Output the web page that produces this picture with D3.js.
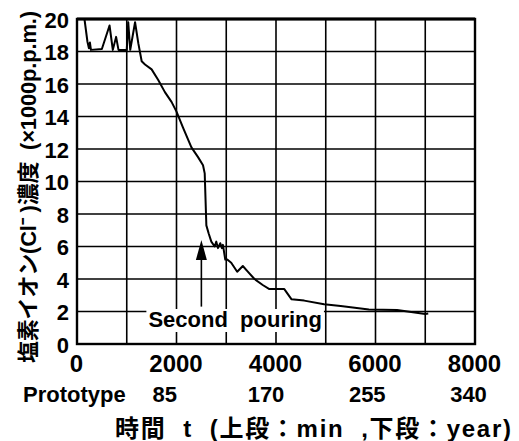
<!DOCTYPE html>
<html>
<head>
<meta charset="utf-8">
<script src="https://cdn.jsdelivr.net/npm/d3@7"></script>
<style>
  body { margin: 0; background: #fff; }
  text { font-family: "Liberation Sans", "Noto Sans CJK JP", sans-serif; font-weight: bold; fill: #000; }
</style>
</head>
<body>
<div id="chart"></div>
<script>
var width = 519;
var height = 441;

// time (min) and chloride ion concentration (x1000 ppm)
var minutes = [150, 210, 240, 260, 280, 500, 654, 720, 786, 834, 1000, 1030, 1070, 1167, 1233, 1300, 1367, 1500,
  1633, 1767, 1900, 2000, 2133, 2300, 2433, 2533, 2567, 2600, 2647, 2700, 2767, 2800, 2833, 2880, 2913, 2933,
  2980, 3020, 3100, 3220, 3333, 3433, 3567, 3733, 3867, 4167, 4313, 4567, 4967, 5300, 5867, 6433, 7000, 7060];
var chloride = [20.0, 18.6, 18.2, 18.55, 18.1, 18.15, 19.6, 18.1, 18.9, 18.1, 18.1, 19.8, 18.1, 19.8, 18.5, 17.4, 17.2, 16.9,
  16.25, 15.5, 14.9, 14.3, 13.3, 12.1, 11.5, 11.0, 10.5, 7.3, 6.8, 6.3, 6.0, 6.3, 5.9, 6.2, 5.9, 6.1,
  5.2, 5.2, 5.0, 4.45, 4.8, 4.45, 4.0, 3.63, 3.38, 3.38, 2.75, 2.67, 2.44, 2.34, 2.13, 2.09, 1.85, 1.88];

var xGridTicks = [1000, 2000, 3000, 4000, 5000, 6000, 7000];
var yGridTicks = [2, 4, 6, 8, 10, 12, 14, 16, 18];
var xLabelTicks = [0, 2000, 4000, 6000, 8000];
var yLabelTicks = [0, 2, 4, 6, 8, 10, 12, 14, 16, 18, 20];
var yearTicks = [85, 170, 255, 340];

// second pouring marker (min, from/to concentration)
var pourX = 2500;
var pourFrom = 2.3;
var pourTo = 6.4;

var svg = d3.select("#chart").append("svg")
  .attr("width", width)
  .attr("height", height)
  .style("background", "#fff");

var x = d3.scaleLinear().domain([0, 8000]).range([77, 475]);
var y = d3.scaleLinear().domain([0, 20]).range([344, 19]);
// prototype years row sits slightly left of the minute ticks
var xYear = d3.scaleLinear().domain([0, 340]).range([63, 468]);

// grid
svg.append("g").selectAll("line.v")
  .data(xGridTicks)
  .enter().append("line")
  .attr("x1", function(d) { return x(d); })
  .attr("x2", function(d) { return x(d); })
  .attr("y1", y(0))
  .attr("y2", y(20))
  .attr("stroke", "#000")
  .attr("stroke-width", 1.6);

svg.append("g").selectAll("line.h")
  .data(yGridTicks)
  .enter().append("line")
  .attr("x1", x(0))
  .attr("x2", x(8000))
  .attr("y1", function(d) { return y(d); })
  .attr("y2", function(d) { return y(d); })
  .attr("stroke", "#000")
  .attr("stroke-width", 1.6);

// data line
var line = d3.line()
  .x(function(d, i) { return x(minutes[i]); })
  .y(function(d) { return y(d); });

svg.append("path")
  .attr("d", line(chloride))
  .attr("fill", "none")
  .attr("stroke", "#000")
  .attr("stroke-width", 2)
  .attr("stroke-linejoin", "round");

// annotation
var note = svg.append("g");
var noteText = note.append("text")
  .attr("x", x(pourX) - 53)
  .attr("y", 327)
  .attr("font-size", 22)
  .style("white-space", "pre")
  .text("Second  pouring");
var bb = noteText.node().getBBox();
note.insert("rect", "text")
  .attr("x", bb.x - 2)
  .attr("y", bb.y + 2)
  .attr("width", bb.width + 4)
  .attr("height", bb.height - 2)
  .attr("fill", "#fff");

note.append("line")
  .attr("x1", x(pourX))
  .attr("x2", x(pourX))
  .attr("y1", y(pourFrom))
  .attr("y2", y(pourTo) + 10)
  .attr("stroke", "#000")
  .attr("stroke-width", 1.6);

note.append("path")
  .attr("d", "M" + x(pourX) + "," + y(pourTo) +
    "L" + (x(pourX) - 5.5) + "," + (y(pourTo) + 20) +
    "L" + (x(pourX) + 5.5) + "," + (y(pourTo) + 20) + "Z")
  .attr("fill", "#000");

// frame
svg.append("rect")
  .attr("x", x(0))
  .attr("y", y(20))
  .attr("width", x(8000) - x(0))
  .attr("height", y(0) - y(20))
  .attr("fill", "none")
  .attr("stroke", "#000")
  .attr("stroke-width", 2.4);
svg.append("line")
  .attr("x1", x(0)).attr("x2", x(8000))
  .attr("y1", y(20)).attr("y2", y(20))
  .attr("stroke", "#000").attr("stroke-width", 3.2);

// axes labels
var xAxis = svg.append("g")
  .attr("transform", "translate(-1," + y(0) + ")")
  .call(d3.axisBottom(x).tickValues(xLabelTicks).tickSize(0).tickPadding(11).tickFormat(d3.format("d")));
xAxis.select(".domain").remove();
xAxis.selectAll("text").attr("font-size", 24).attr("font-family", null);

var yAxis = svg.append("g")
  .attr("transform", "translate(" + x(0) + ",1)")
  .call(d3.axisLeft(y).tickValues(yLabelTicks).tickSize(0).tickPadding(8));
yAxis.select(".domain").remove();
yAxis.selectAll("text").attr("font-size", 22).attr("font-family", null);

var yearAxis = svg.append("g")
  .attr("transform", "translate(0,374)")
  .call(d3.axisBottom(xYear).tickValues(yearTicks).tickSize(0).tickPadding(12));
yearAxis.select(".domain").remove();
yearAxis.selectAll("text").attr("font-size", 22).attr("font-family", null);

svg.append("text")
  .attr("x", 23)
  .attr("y", 402)
  .attr("font-size", 22)
  .text("Prototype");

svg.append("text")
  .attr("x", 115)
  .attr("y", 437)
  .attr("font-size", 24)
  .attr("textLength", 396)
  .attr("lengthAdjust", "spacing")
  .style("white-space", "pre")
  .text("時間  t  (上段：min  ,下段：year)");

svg.append("text")
  .attr("transform", "translate(28,187) rotate(-90)")
  .attr("text-anchor", "middle")
  .attr("dominant-baseline", "central")
  .attr("font-size", 22)
  .attr("textLength", 352)
  .attr("lengthAdjust", "spacing")
  .style("white-space", "pre")
  .text("塩素イオン(Cl\u207B )濃度  (×1000p.p.m.)");
</script>
</body>
</html>
